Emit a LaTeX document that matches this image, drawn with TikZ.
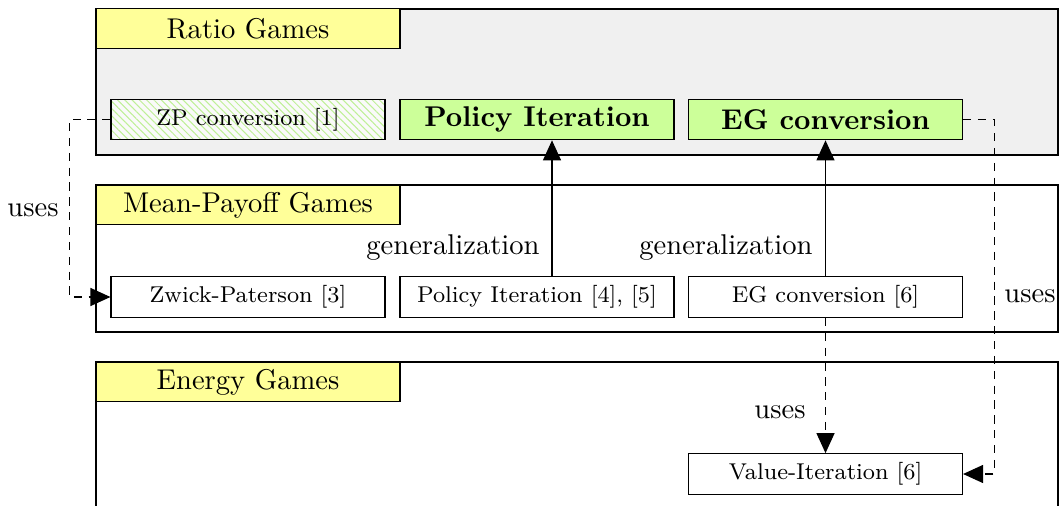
\documentclass[tikz,border=0pt]{standalone}
\usetikzlibrary{arrows.meta,patterns.meta}
\definecolor{titleyellow}{RGB}{255,255,153}
\definecolor{boxgreen}{RGB}{204,255,153}
\definecolor{contgray}{RGB}{240,240,240}
\definecolor{hatchgreen}{RGB}{190,240,150}
\begin{document}
\begin{tikzpicture}[x=0.35pt,y=-0.35pt,
  container/.style={draw, minimum width=336.7pt, inner sep=0pt},
  titlebox/.style={draw, fill=titleyellow, minimum width=106.4pt, minimum height=13.8pt, inner sep=0pt},
  algbox/.style={draw, minimum width=95.9pt, minimum height=14.2pt, inner sep=0pt, font=\footnotesize},
  keybox/.style={draw, fill=boxgreen, minimum width=95.9pt, minimum height=14.2pt, inner sep=0pt, font=\bfseries},
  hatchbox/.style={algbox, preaction={fill=white!70!contgray}, pattern={Lines[angle=-45,distance=1.8pt,line width=0.35pt]}, pattern color=hatchgreen},
  arr/.style={-{Triangle[length=7pt,width=6.3pt]}},
  usesarr/.style={arr, dash pattern=on 2.9pt off 2.3pt},
  lbl/.style={inner sep=0pt}]
\useasboundingbox (0,0) rectangle (1059,506);
\clip (0,0) rectangle (1059,506);
% containers
\node[container, fill=contgray, minimum height=51.1pt] (ratio) at (577,82) {};
\node[titlebox] (ratiot) at (248,28.5) {Ratio Games};
\node[container, fill=white, minimum height=51.45pt] (mp) at (577,258.5) {};
\node[titlebox] (mpt) at (248,205) {Mean-Payoff Games};
\node[container, fill=white, minimum height=62.3pt] (eg) at (577,451) {};
\node[titlebox] (egt) at (248,382) {Energy Games};
% algorithm boxes
\node[hatchbox] (zp) at (248,119.5) {ZP conversion [1]};
\node[keybox] (pi) at (537,119.5) {Policy Iteration};
\node[keybox] (egc) at (825.5,119.5) {EG conversion};
\node[algbox] (zw) at (248,297) {Zwick-Paterson [3]};
\node[algbox] (pi2) at (537,297) {Policy Iteration [4], [5]};
\node[algbox] (egc2) at (825.5,297) {EG conversion [6]};
\node[algbox] (vi) at (825.5,474) {Value-Iteration [6]};
% generalization arrows
\draw[arr] (pi2.north -| 552,0) -- (pi.south -| 552,0);
\draw[arr] (egc2.north) -- (egc.south);
\node[lbl] (g1) at (453,248) {generalization};
\node[lbl] (g2) at (726,248) {generalization};
% uses arrows
\draw[usesarr] (zp.west) -- ++(-41,0) |- (zw.west);
\draw[usesarr] (egc.east) -- ++(31,0) |- (vi.east);
\draw[usesarr] (egc2.south) -- (vi.north);
\node[lbl] (u1) at (33,210) {uses};
\node[lbl] (u2) at (1030,296) {uses};
\node[lbl] (u3) at (780,412) {uses};
\end{tikzpicture}
\end{document}
